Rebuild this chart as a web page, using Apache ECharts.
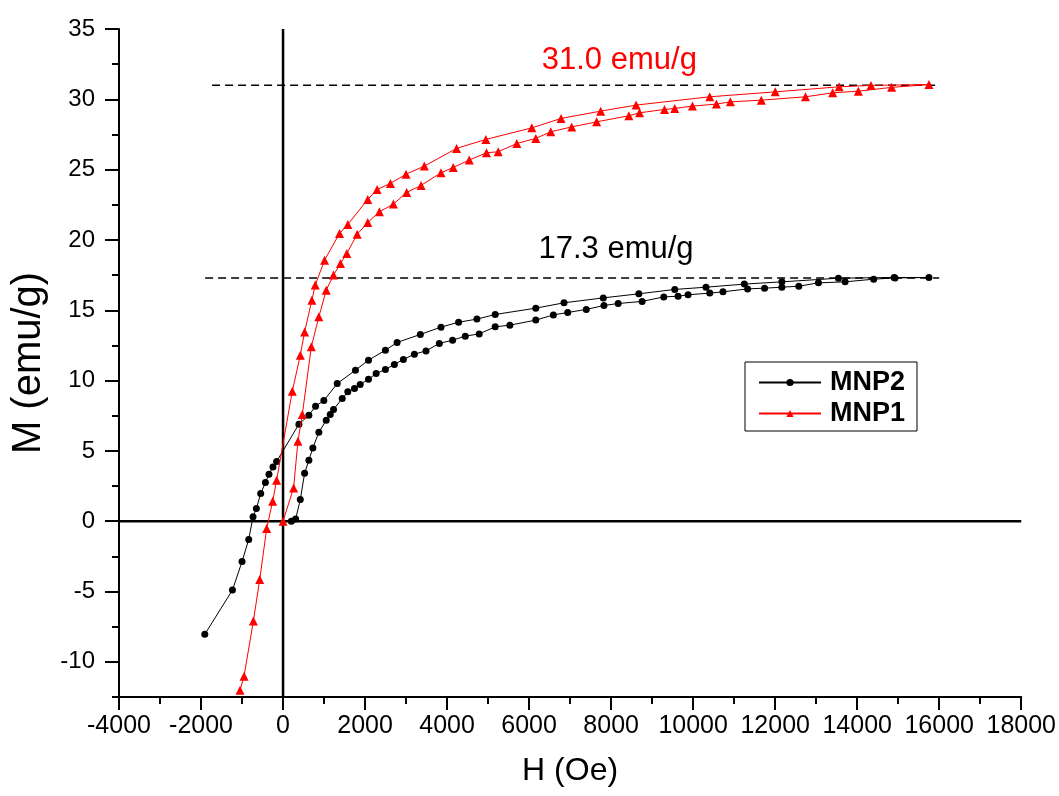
<!DOCTYPE html>
<html>
<head>
<meta charset="utf-8">
<script src="https://cdn.jsdelivr.net/npm/echarts@6/dist/echarts.min.js"></script>
<style>
html,body{margin:0;padding:0;background:#fff;}
#chart{width:1059px;height:796px;}
</style>
</head>
<body>
<div id="chart"></div>
<script>
// ---- data ----
// MNP2: virgin (ascending) branch followed by the descending branch
const mnp2H = [202,307,421,526,630,727,873,1053,1151,1231,1443,1579,1742,1881,2083,2270,2496,2715,2934,3202,3486,3810,4134,4443,4783,5173,5530,6163,6591,6941,7394,7825,8172,8756,9284,9632,9876,10404,10727,11328,11742,12163,12576,13055,13705,14401,14922,15749,
  14900,13542,12163,11248,10313,9552,8676,7808,6851,6163,5173,4727,4280,3851,3348,2781,2496,2083,1766,1321,995,793,630,387,-156,-246,-343,-430,-545,-650,-732,-837,-1000,-1234,-1908];
const mnp2M = [0.0,0.16,1.54,3.41,4.34,5.21,6.33,7.18,7.59,7.94,8.73,9.2,9.44,9.72,10.1,10.5,10.79,11.15,11.5,11.88,12.11,12.64,12.87,13.16,13.32,13.82,13.94,14.3,14.67,14.84,15.06,15.34,15.48,15.63,15.95,16.0,16.1,16.22,16.31,16.52,16.57,16.64,16.71,16.95,17.02,17.21,17.3,17.33,
  17.33,17.28,17.02,16.86,16.64,16.48,16.17,15.88,15.53,15.15,14.7,14.37,14.15,13.8,13.28,12.71,12.16,11.45,10.74,9.79,8.58,8.18,7.54,6.9,4.25,3.86,3.34,2.75,1.97,0.9,0.31,-1.3,-2.87,-4.9,-8.04];
// MNP1
const mnp1H = [0,258,363,470,689,873,1053,1231,1401,1555,1808,2066,2350,2691,3015,3365,3851,4151,4540,4961,5246,5700,6163,6528,7039,7647,8433,8693,9302,9552,9983,10567,10907,11662,12739,13403,14029,14839,15749,
  14337,13559,12002,10404,8610,7745,6779,6066,4946,4231,3445,3000,2618,2294,2066,1579,1377,1012,786,703,526,421,226,-156,-253,-399,-569,-723,-951,-1049];
const mnp1M = [0,2.37,5.69,7.59,12.4,14.53,16.43,17.5,18.33,19.04,20.41,21.24,22.0,22.55,23.38,23.88,24.77,25.16,25.68,26.2,26.27,26.86,27.22,27.69,28.04,28.4,28.83,29.04,29.28,29.35,29.52,29.66,29.82,29.94,30.18,30.46,30.58,30.85,31.05,
  30.99,30.89,30.53,30.18,29.59,29.16,28.64,27.97,27.15,26.51,25.25,24.68,24.02,23.59,22.88,21.1,20.46,18.56,16.79,15.72,13.46,11.8,9.25,2.92,1.42,-0.52,-4.15,-7.09,-11.02,-12.02];
// saturation reference levels
const satLevels = [31.0, 17.3];
const satLabels = ['31.0 emu/g', '17.3 emu/g'];
const satStartH = [-1730, -1900];
const satEndH = [15900, 16000];
// axis ranges and tick labels
const xRange = [-4000, 18000];
const yRange = [-12.5, 35];
const yMajorTicks = [-10,-5,0,5,10,15,20,25,30,35];
const yMinorTicks = [-12.5,-7.5,-2.5,2.5,7.5,12.5,17.5,22.5,27.5,32.5];
const seriesNames = ['MNP2','MNP1'];

const FONT = '"Liberation Sans", Arial, sans-serif';
const zip = (a, b) => a.map((v, i) => [v, b[i]]);

const chart = echarts.init(document.getElementById('chart'), null, {renderer: 'canvas'});

const satSeries = satLevels.map((lv, i) => ({
  type: 'line',
  name: 'sat' + i,
  data: [[satStartH[i], lv], [satEndH[i], lv]],
  symbol: 'none',
  silent: true,
  lineStyle: {color: '#000', width: 1.5, type: [8, 5]},
  z: 1
}));

const zeroLine = (data) => ({
  type: 'line', data, symbol: 'none', silent: true,
  lineStyle: {color: '#000', width: 2.5},
  z: 2
});

const option = {
  backgroundColor: '#fff',
  animation: false,
  grid: {left: 119, right: 37, top: 29, bottom: 99},
  legend: {
    data: seriesNames,
    orient: 'vertical',
    left: 745, top: 362,
    padding: [7, 12, 4, 13],
    itemGap: 4,
    itemWidth: 62, itemHeight: 9,
    borderColor: '#000', borderWidth: 1,
    selectedMode: false,
    textStyle: {fontFamily: FONT, fontSize: 27, fontWeight: 'bold', color: '#000', padding: [0,0,0,4]}
  },
  xAxis: {
    type: 'value', min: xRange[0], max: xRange[1], interval: 2000,
    name: 'H (Oe)', nameLocation: 'middle', nameGap: 58,
    nameTextStyle: {fontFamily: FONT, fontSize: 32, color: '#000'},
    axisLine: {onZero: false, lineStyle: {color: '#000', width: 2}},
    axisTick: {length: 13, lineStyle: {color: '#000', width: 2}},
    minorTick: {show: true, splitNumber: 2, length: 7, lineStyle: {color: '#000', width: 2}},
    axisLabel: {fontFamily: FONT, fontSize: 25, color: '#000', margin: 17, formatter: v => String(v)},
    splitLine: {show: false}
  },
  yAxis: [{
    type: 'value', min: yRange[0], max: yRange[1], interval: 2.5,
    name: 'M (emu/g)', nameLocation: 'middle', nameGap: 66,
    nameTextStyle: {fontFamily: FONT, fontSize: 40, color: '#000'},
    axisLine: {onZero: false, lineStyle: {color: '#000', width: 2}},
    axisTick: {customValues: yMajorTicks, length: 14, lineStyle: {color: '#000', width: 2}},
    axisLabel: {customValues: yMajorTicks, fontFamily: FONT, fontSize: 24, color: '#000', margin: 24, formatter: v => String(v)},
    splitLine: {show: false}
  }, {
    type: 'value', min: yRange[0], max: yRange[1], interval: 2.5, position: 'left',
    axisLine: {show: false, onZero: false},
    axisTick: {customValues: yMinorTicks, length: 7, lineStyle: {color: '#000', width: 2}},
    axisLabel: {show: false},
    splitLine: {show: false}
  }],
  series: [
    ...satSeries,
    zeroLine([[0, yRange[0]], [0, yRange[1]]]),
    zeroLine([[xRange[0], 0], [xRange[1], 0]]),
    {
      type: 'scatter', name: 'notes', silent: true, symbolSize: 0,
      itemStyle: {opacity: 1},
      data: [
        {value: [8200, 32.75], label: {color: '#ff0000'}},
        {value: [8120, 19.3], label: {color: '#000000'}}
      ],
      label: {
        show: true, position: 'inside', opacity: 1,
        fontFamily: FONT, fontSize: 31,
        formatter: p => satLabels[p.dataIndex]
      }
    },
    {
      type: 'line', name: seriesNames[0],
      data: zip(mnp2H, mnp2M),
      symbol: 'circle', symbolSize: 7,
      itemStyle: {color: '#000'},
      lineStyle: {color: '#000', width: 1},
      z: 3
    },
    {
      type: 'line', name: seriesNames[1],
      data: zip(mnp1H, mnp1M),
      symbol: 'triangle', symbolSize: 9,
      itemStyle: {color: '#ff0000'},
      lineStyle: {color: '#ff0000', width: 1},
      z: 4
    }
  ]
};
chart.setOption(option);
</script>
</body>
</html>
